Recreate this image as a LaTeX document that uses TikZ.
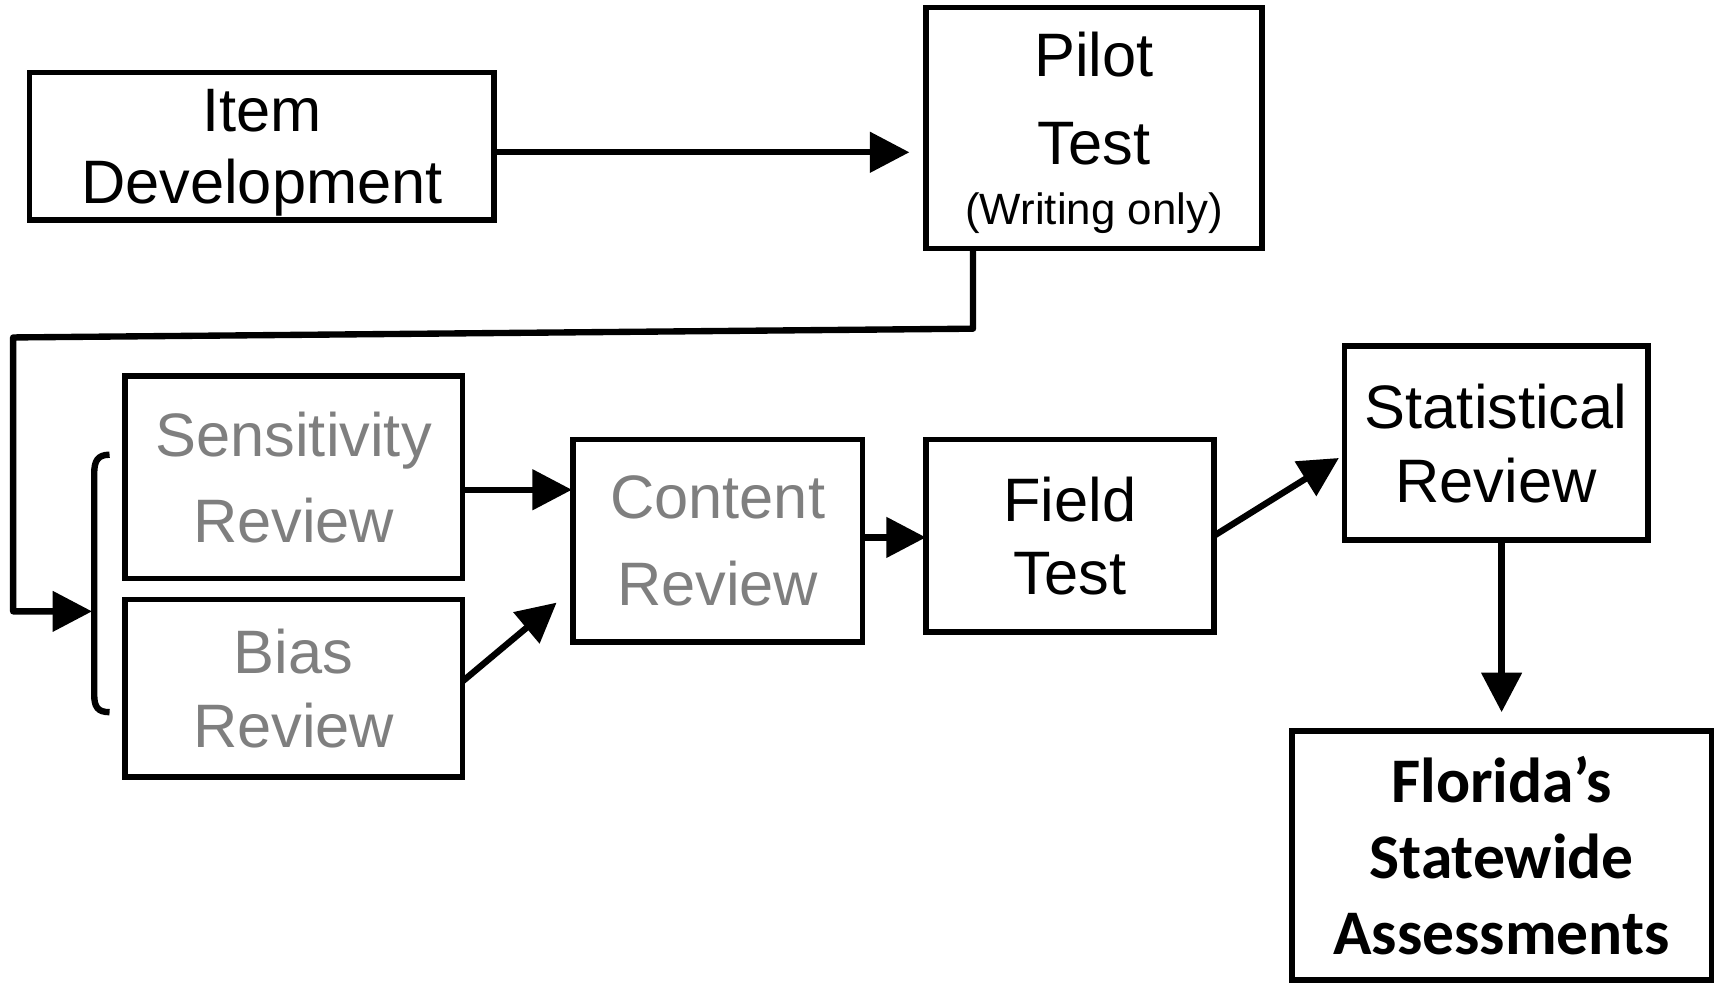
\documentclass[tikz,border=0pt]{standalone}
\usepackage{fontspec}
\setmainfont{Liberation Sans}
\newfontfamily\calib{Carlito}
\usetikzlibrary{arrows.meta,calc}
\definecolor{greytext}{HTML}{7F7F7F}
\tikzset{
  box/.style={draw, line width=2.5pt, inner sep=0pt, outer sep=0pt, align=center, text depth=0pt},
  arr/.style={-{Triangle[length=18pt,width=18pt]}, line width=2.9pt},
  conn/.style={line width=2.9pt},
}
\begin{document}
\begin{tikzpicture}[x=0.5pt,y=-0.5pt]
\useasboundingbox (0,0) rectangle (1568,897);
% boxes
\node[box, minimum width=212pt, minimum height=67.5pt, font=\fontsize{28}{33}\selectfont] (item) at (239,133.5) {Item\\Development};
\node[box, minimum width=153.5pt, minimum height=110pt, font=\fontsize{28}{40}\selectfont] (pilot) at (998.5,117) {Pilot\\Test\\[-12.5pt]{\fontsize{20}{25}\selectfont (Writing only)}};
\node[box, minimum width=154pt, minimum height=92.5pt, text=greytext, font=\fontsize{28}{39.5}\selectfont] (sens) at (268,435.5) {Sensitivity\\Review};
\node[box, minimum width=154pt, minimum height=81pt, text=greytext, font=\fontsize{28}{34}\selectfont] (bias) at (268,628) {Bias\\Review};
\node[box, minimum width=132pt, minimum height=92.5pt, text=greytext, font=\fontsize{28}{40}\selectfont] (content) at (655,493.5) {Content\\Review};
\node[box, minimum width=131.5pt, minimum height=88pt, font=\fontsize{28}{33.5}\selectfont] (field) at (976.5,489) {Field\\Test};
\node[box, minimum width=138.5pt, minimum height=88.5pt, font=\fontsize{28}{33.5}\selectfont] (stat) at (1365.5,404.5) {Statistical\\Review};
\node[box, minimum width=191.5pt, minimum height=113.75pt, font=\calib\bfseries\fontsize{29}{34.5}\selectfont] (fl) at (1370.5,780.75) {Florida’s\\Statewide\\Assessments};
% bracket
\coordinate (brk) at (84,558);
\coordinate (bend) at (12,558);
\draw[conn] (100,415) .. controls (89,415) and (86,421) .. (86,432) -- (86,634) .. controls (86,645) and (89,650) .. (100,650);
% connectors
\draw[arr, shorten >=7.5pt] ($(item.east)+(0,5.5)$) -- ($(item.east -| pilot.west)+(0,5.5)$);
\draw[arr, line join=round] ($(pilot.south west)+(43,0)$) -- ($(pilot.south west)+(43,73)$) -- (12,308) -- (bend) -- (brk);
\draw[arr] ($(sens.east)+(0,11.5)$) -- ($(content.west |- sens.east)+(-1,11.5)$);
\draw[arr] ($(bias.east)+(0,-6)$) -- ($(content.south west)+(-15,-36)$);
\draw[arr] ($(content.east)+(0,-3)$) -- ($(content.east -| field.west)+(0,-3)$);
\draw[arr] (field.east) -- ($(stat.west)+(-5,13.5)$);
\draw[arr, shorten >=8.5pt] (stat.south -| fl.north) -- (fl.north);
\end{tikzpicture}
\end{document}
